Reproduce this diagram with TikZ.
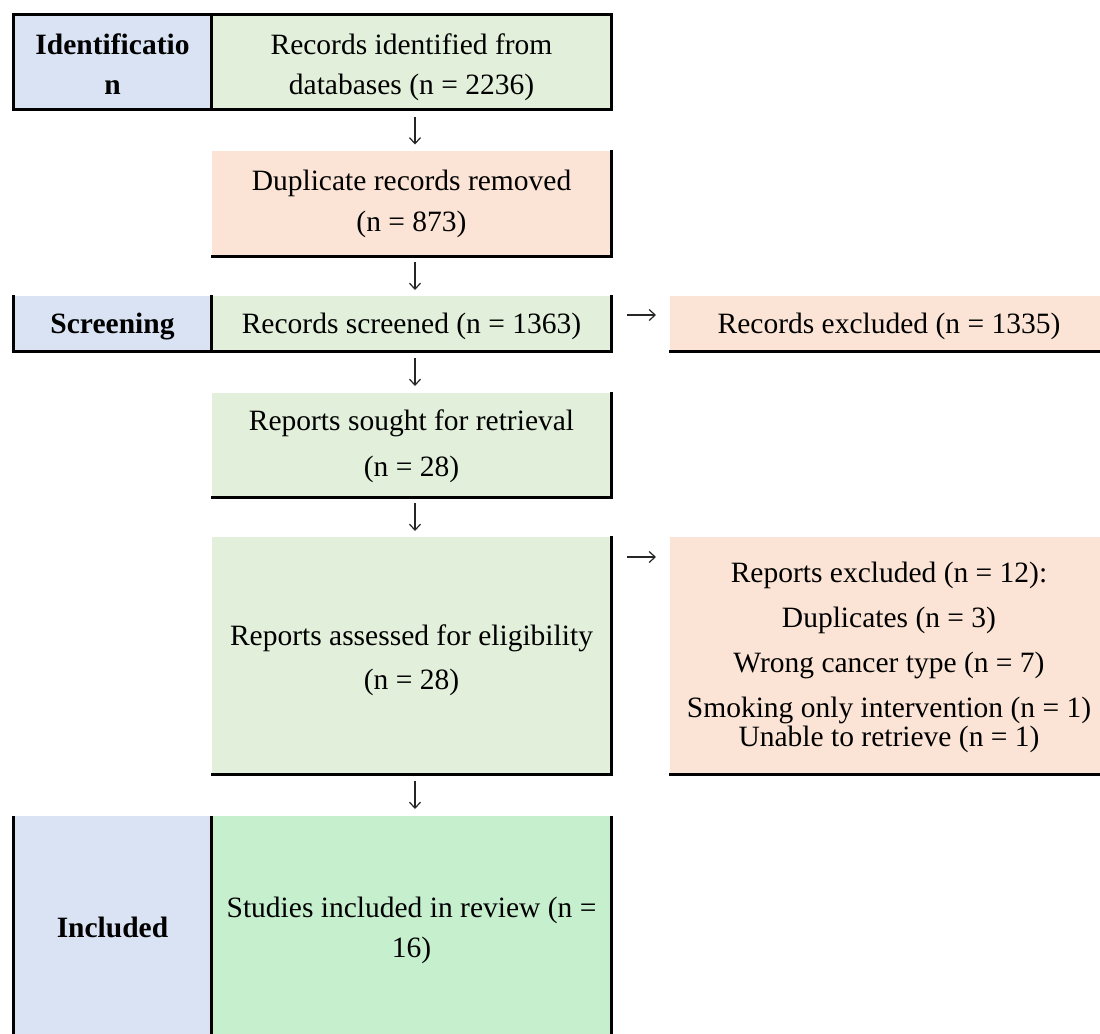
\documentclass[tikz,border=0pt]{standalone}
\usepackage{fontspec}
\setmainfont{Liberation Serif}
\usetikzlibrary{fit,arrows.meta}
\definecolor{labelblue}{HTML}{DAE3F3}
\definecolor{stepgreen}{HTML}{E2EFDA}
\definecolor{exclpeach}{HTML}{FBE4D5}
\definecolor{finalgreen}{HTML}{C6EFCE}
\begin{document}
\begin{tikzpicture}[x=0.5pt,y=-0.5pt,
  cell/.style={rectangle, inner sep=0pt, outer sep=0pt, draw=none},
  rule/.style={line width=1.5pt, line cap=rect, line join=miter},
  txt/.style={inner sep=0pt, anchor=base, font=\fontsize{14.75}{17}\selectfont},
  lab/.style={txt, font=\fontsize{14.75}{17}\selectfont\bfseries},
  flowtip/.style={line width=0.6pt, black!85, -{Straight Barb[length=3pt,width=5.5pt]}}]
\useasboundingbox (0,0) rectangle (1100,1034);
\fill[white] (0,0) rectangle (1100,1034);

% ---- cells ----
\node[cell, fill=labelblue,  fit={(13.5,14.5) (211.5,109)}]  (idl) {};
\node[cell, fill=stepgreen,  fit={(211.5,14.5) (611.5,109)}] (rec) {};
\node[cell, fill=exclpeach,  fit={(212,151) (611.5,256)}]    (dup) {};
\node[cell, fill=labelblue,  fit={(13.5,296) (211.5,351)}]   (scl) {};
\node[cell, fill=stepgreen,  fit={(211.5,296) (611.5,351)}]  (scr) {};
\node[cell, fill=exclpeach,  fit={(670,296) (1100,351)}]     (rex) {};
\node[cell, fill=stepgreen,  fit={(212,393) (611.5,497)}]    (sou) {};
\node[cell, fill=stepgreen,  fit={(212,537) (611.5,774)}]    (ass) {};
\node[cell, fill=exclpeach,  fit={(670,537) (1100,774)}]     (pex) {};
\node[cell, fill=labelblue,  fit={(13.5,816) (211.5,1034)}]  (inl) {};
\node[cell, fill=finalgreen, fit={(211.5,816) (611.5,1034)}] (inc) {};

% ---- rules ----
\draw[rule] (idl.north west) -- (rec.north east) -- (rec.south east) -- (idl.south west) -- cycle;
\draw[rule] (idl.north east) -- (idl.south east);
\draw[rule] (dup.north east) -- (dup.south east) -- (dup.south west);
\draw[rule] (scl.north west) -- (scl.south west) -- (scr.south east) -- (scr.north east);
\draw[rule] (scl.north east) -- (scl.south east);
\draw[rule] (rex.south west) -- (rex.south east);
\draw[rule] (sou.north east) -- (sou.south east) -- (sou.south west);
\draw[rule] (ass.north east) -- (ass.south east) -- (ass.south west);
\draw[rule] (pex.south west) -- (pex.south east);
\draw[rule, line cap=butt] (inl.north west) -- (inl.south west);
\draw[rule, line cap=butt] (inl.north east) -- (inl.south east);
\draw[rule, line cap=butt] (inc.north east) -- (inc.south east);

% ---- texts ----
\node[lab] (idl-t1) at (112.5,54) {Identificatio};
\node[lab] (idl-t2) at (112.5,94) {n};
\node[txt] (rec-t1) at (411.5,54) {Records identified from};
\node[txt] (rec-t2) at (411.5,94) {databases (n = 2236)};
\node[txt] (dup-t1) at (411.5,190) {Duplicate records removed};
\node[txt] (dup-t2) at (411.5,231) {(n = 873)};
\node[lab] (scl-t) at (112.5,333) {Screening};
\node[txt] (scr-t) at (411.5,333) {Records screened (n = 1363)};
\node[txt] (rex-t) at (889,333) {Records excluded (n = 1335)};
\node[txt] (sou-t1) at (411.5,430) {Reports sought for retrieval};
\node[txt] (sou-t2) at (411.5,476) {(n = 28)};
\node[txt] (ass-t1) at (411.5,645) {Reports assessed for eligibility};
\node[txt] (ass-t2) at (411.5,689) {(n = 28)};
\node[txt] (pex-t1) at (889,582) {Reports excluded (n = 12):};
\node[txt] (pex-t2) at (889,627) {Duplicates (n = 3)};
\node[txt] (pex-t3) at (889,672) {Wrong cancer type (n = 7)};
\node[txt] (pex-t4) at (889,717) {Smoking only intervention (n = 1)};
\node[txt] (pex-t5) at (889,746) {Unable to retrieve (n = 1)};
\node[lab] (inl-t) at (112.5,937) {Included};
\node[txt] (inc-t1) at (411.5,917) {Studies included in review (n =};
\node[txt] (inc-t2) at (411.5,957) {16)};

% ---- flow arrows between the steps ----
\coordinate (d1a) at (415,116.5); \coordinate (d1b) at (415,144.5);
\coordinate (d2a) at (415,262);   \coordinate (d2b) at (415,290);
\coordinate (d3a) at (415,358);   \coordinate (d3b) at (415,386);
\coordinate (d4a) at (415,503);   \coordinate (d4b) at (415,531);
\coordinate (d5a) at (415,781);   \coordinate (d5b) at (415,809);
\coordinate (r1a) at (627,315);   \coordinate (r1b) at (656,315);
\coordinate (r2a) at (627,557);   \coordinate (r2b) at (656,557);
\draw[flowtip] (d1a) -- (d1b);
\draw[flowtip] (d2a) -- (d2b);
\draw[flowtip] (d3a) -- (d3b);
\draw[flowtip] (d4a) -- (d4b);
\draw[flowtip] (d5a) -- (d5b);
\draw[flowtip] (r1a) -- (r1b);
\draw[flowtip] (r2a) -- (r2b);
\end{tikzpicture}
\end{document}
